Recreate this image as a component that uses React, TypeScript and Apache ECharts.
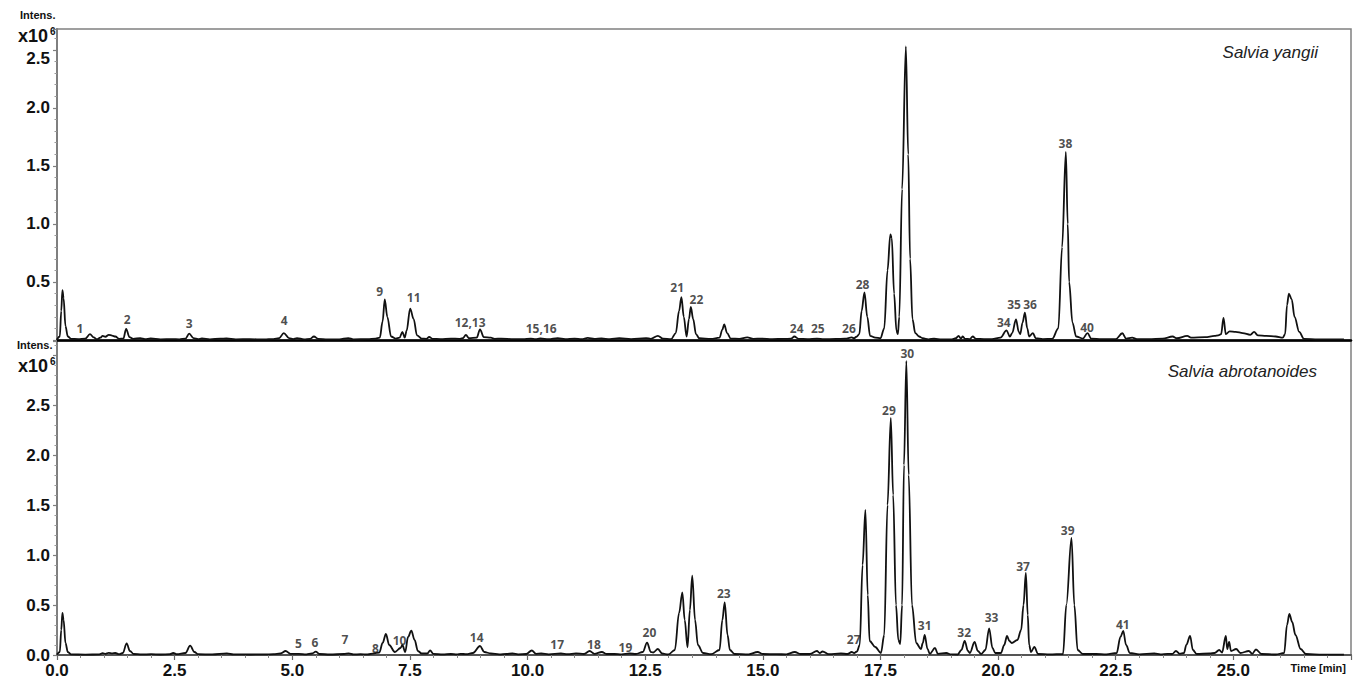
import React, { useEffect, useRef } from 'react';
import * as echarts from 'echarts';

// Retention time (min) vs intensity (x10^6) — Salvia yangii (top panel)
const yangiiTrace: [number, number][] = [
  [0, 0.005], [0.06, 0.03], [0.09, 0.25], [0.115, 0.43], [0.14, 0.36], [0.18, 0.12], [0.23, 0.03], [0.3, 0.01],
  [0.45, 0.008], [0.6, 0.012], [0.7, 0.05], [0.78, 0.022], [0.85, 0.006], [0.92, 0.02], [0.97, 0.035], [1.03, 0.028],
  [1.1, 0.045], [1.17, 0.038], [1.24, 0.03], [1.32, 0.01], [1.41, 0.012], [1.47, 0.095], [1.54, 0.025], [1.62, 0.01],
  [1.77, 0.016], [1.87, 0.008], [1.99, 0.013], [2.2, 0.006], [2.45, 0.008], [2.6, 0.006], [2.73, 0.012], [2.81, 0.055],
  [2.9, 0.016], [3.0, 0.008], [3.08, 0.013], [3.25, 0.006], [3.47, 0.011], [3.6, 0.013], [3.8, 0.006], [4.1, 0.007],
  [4.4, 0.005], [4.6, 0.008], [4.72, 0.015], [4.82, 0.06], [4.93, 0.016], [5.02, 0.008], [5.1, 0.016], [5.25, 0.006],
  [5.38, 0.01], [5.46, 0.03], [5.55, 0.01], [5.75, 0.005], [6.0, 0.006], [6.19, 0.016], [6.3, 0.006], [6.6, 0.007],
  [6.77, 0.012], [6.86, 0.02], [6.92, 0.16], [6.965, 0.35], [7.02, 0.2], [7.1, 0.03], [7.2, 0.012], [7.28, 0.02],
  [7.34, 0.07], [7.39, 0.02], [7.43, 0.08], [7.505, 0.27], [7.58, 0.18], [7.65, 0.04], [7.75, 0.012], [7.85, 0.01],
  [7.91, 0.026], [7.98, 0.01], [8.15, 0.008], [8.37, 0.012], [8.55, 0.01], [8.62, 0.015], [8.69, 0.043], [8.76, 0.015],
  [8.92, 0.02], [8.99, 0.092], [9.07, 0.025], [9.22, 0.02], [9.3, 0.01], [9.44, 0.012], [9.7, 0.007], [9.9, 0.008],
  [10.07, 0.012], [10.17, 0.007], [10.27, 0.014], [10.45, 0.007], [10.64, 0.016], [10.8, 0.008], [11.0, 0.012],
  [11.15, 0.008], [11.28, 0.018], [11.42, 0.009], [11.57, 0.013], [11.75, 0.008], [11.95, 0.016], [12.2, 0.008],
  [12.52, 0.016], [12.62, 0.01], [12.77, 0.036], [12.88, 0.012], [13.05, 0.008], [13.15, 0.06], [13.22, 0.25],
  [13.27, 0.37], [13.32, 0.2], [13.38, 0.03], [13.43, 0.18], [13.47, 0.285], [13.52, 0.18], [13.58, 0.05], [13.65, 0.015],
  [13.9, 0.01], [14.08, 0.02], [14.14, 0.09], [14.18, 0.135], [14.24, 0.06], [14.32, 0.012], [14.5, 0.01], [14.67, 0.022],
  [14.8, 0.01], [14.97, 0.012], [15.2, 0.008], [15.45, 0.009], [15.6, 0.012], [15.67, 0.03], [15.76, 0.01], [15.95, 0.008],
  [16.15, 0.012], [16.3, 0.007], [16.55, 0.009], [16.75, 0.012], [16.89, 0.022], [16.94, 0.015], [16.99, 0.028],
  [17.05, 0.05], [17.1, 0.25], [17.16, 0.41], [17.22, 0.2], [17.28, 0.035], [17.39, 0.02], [17.5, 0.015], [17.58, 0.1],
  [17.65, 0.6], [17.71, 0.91], [17.74, 0.88], [17.79, 0.4], [17.84, 0.08], [17.87, 0.05], [17.9, 0.2], [17.96, 1.3],
  [18.04, 2.53], [18.09, 1.6], [18.13, 0.7], [18.18, 0.18], [18.24, 0.06], [18.32, 0.03], [18.4, 0.015], [18.52, 0.006],
  [18.64, 0.012], [18.8, 0.005], [19.02, 0.005], [19.1, 0.015], [19.16, 0.035], [19.21, 0.012], [19.25, 0.03],
  [19.3, 0.01], [19.4, 0.008], [19.46, 0.03], [19.53, 0.01], [19.7, 0.008], [19.87, 0.008], [20.05, 0.02], [20.18, 0.083],
  [20.25, 0.03], [20.3, 0.06], [20.38, 0.178], [20.44, 0.07], [20.47, 0.05], [20.52, 0.15], [20.57, 0.235], [20.62, 0.1],
  [20.66, 0.03], [20.74, 0.06], [20.8, 0.015], [20.95, 0.008], [21.15, 0.01], [21.28, 0.1], [21.36, 0.8], [21.44, 1.62],
  [21.48, 1.0], [21.51, 0.5], [21.58, 0.15], [21.66, 0.03], [21.8, 0.012], [21.9, 0.06], [21.98, 0.012], [22.2, 0.008],
  [22.5, 0.008], [22.64, 0.058], [22.72, 0.012], [22.85, 0.02], [22.95, 0.008], [23.2, 0.008], [23.5, 0.012],
  [23.71, 0.03], [23.8, 0.015], [24.02, 0.035], [24.1, 0.02], [24.4, 0.025], [24.6, 0.035], [24.68, 0.04], [24.74, 0.05],
  [24.79, 0.19], [24.84, 0.05], [24.92, 0.075], [25.05, 0.07], [25.2, 0.06], [25.36, 0.045], [25.44, 0.07], [25.52, 0.04],
  [25.7, 0.035], [25.9, 0.03], [26.05, 0.02], [26.1, 0.05], [26.14, 0.3], [26.18, 0.4], [26.24, 0.35], [26.3, 0.2],
  [26.4, 0.07], [26.5, 0.01], [26.8, 0.005], [27.1, 0.005], [27.35, 0.005],
];

// Salvia abrotanoides (bottom panel)
const abrotanoidesTrace: [number, number][] = [
  [0, 0.004], [0.06, 0.03], [0.09, 0.25], [0.115, 0.42], [0.14, 0.35], [0.18, 0.12], [0.23, 0.03], [0.3, 0.006],
  [0.6, 0.004], [0.9, 0.006], [0.97, 0.018], [1.03, 0.012], [1.1, 0.022], [1.17, 0.016], [1.24, 0.02], [1.32, 0.008],
  [1.4, 0.02], [1.48, 0.117], [1.55, 0.04], [1.63, 0.01], [1.8, 0.006], [2.0, 0.008], [2.2, 0.005], [2.4, 0.008],
  [2.47, 0.02], [2.55, 0.008], [2.73, 0.02], [2.83, 0.093], [2.92, 0.03], [3.0, 0.008], [3.3, 0.006], [3.61, 0.016],
  [3.75, 0.006], [4.1, 0.005], [4.4, 0.006], [4.6, 0.008], [4.75, 0.015], [4.86, 0.04], [4.96, 0.012], [5.14, 0.012],
  [5.3, 0.006], [5.42, 0.015], [5.5, 0.033], [5.58, 0.01], [5.8, 0.005], [6.1, 0.01], [6.2, 0.016], [6.3, 0.006],
  [6.45, 0.008], [6.6, 0.006], [6.74, 0.016], [6.85, 0.025], [6.92, 0.12], [6.99, 0.21], [7.06, 0.1], [7.18, 0.03],
  [7.3, 0.07], [7.34, 0.1], [7.4, 0.03], [7.46, 0.18], [7.53, 0.243], [7.6, 0.15], [7.67, 0.04], [7.75, 0.015],
  [7.87, 0.015], [7.93, 0.045], [8.0, 0.012], [8.2, 0.006], [8.37, 0.01], [8.5, 0.006], [8.58, 0.012], [8.7, 0.008],
  [8.84, 0.02], [8.99, 0.09], [9.08, 0.03], [9.22, 0.015], [9.4, 0.006], [9.55, 0.01], [9.68, 0.015], [9.8, 0.007],
  [9.97, 0.01], [10.09, 0.045], [10.18, 0.012], [10.29, 0.015], [10.45, 0.007], [10.71, 0.015], [10.85, 0.008],
  [11.03, 0.016], [11.2, 0.01], [11.32, 0.04], [11.42, 0.012], [11.58, 0.03], [11.68, 0.01], [11.85, 0.01], [12.0, 0.006],
  [12.17, 0.015], [12.3, 0.01], [12.45, 0.03], [12.54, 0.123], [12.62, 0.03], [12.67, 0.025], [12.77, 0.06], [12.86, 0.015],
  [12.99, 0.005], [13.13, 0.05], [13.22, 0.42], [13.29, 0.627], [13.34, 0.35], [13.4, 0.077], [13.45, 0.45], [13.5, 0.793],
  [13.56, 0.35], [13.62, 0.1], [13.73, 0.02], [13.9, 0.008], [14.08, 0.05], [14.14, 0.35], [14.19, 0.527], [14.25, 0.2],
  [14.3, 0.05], [14.4, 0.01], [14.7, 0.006], [14.89, 0.03], [15.0, 0.01], [15.3, 0.008], [15.5, 0.007], [15.68, 0.03],
  [15.8, 0.01], [16.0, 0.01], [16.15, 0.04], [16.21, 0.02], [16.27, 0.035], [16.4, 0.008], [16.66, 0.015], [16.8, 0.01],
  [16.89, 0.03], [16.94, 0.02], [17.0, 0.035], [17.06, 0.1], [17.12, 0.9], [17.18, 1.45], [17.23, 0.6], [17.27, 0.14],
  [17.39, 0.08], [17.51, 0.02], [17.58, 0.2], [17.65, 1.5], [17.72, 2.37], [17.77, 1.6], [17.83, 0.5], [17.88, 0.15],
  [17.92, 0.11], [17.96, 0.5], [18.0, 1.9], [18.05, 2.94], [18.1, 1.8], [18.17, 0.5], [18.26, 0.12], [18.36, 0.06],
  [18.4, 0.12], [18.44, 0.2], [18.5, 0.06], [18.55, 0.012], [18.66, 0.07], [18.72, 0.012], [18.9, 0.02], [19.0, 0.006],
  [19.14, 0.005], [19.22, 0.05], [19.29, 0.14], [19.36, 0.04], [19.4, 0.02], [19.5, 0.13], [19.57, 0.04], [19.64, 0.01],
  [19.73, 0.05], [19.81, 0.267], [19.88, 0.07], [19.94, 0.02], [20.06, 0.02], [20.13, 0.1], [20.19, 0.19], [20.24, 0.14],
  [20.29, 0.12], [20.41, 0.15], [20.49, 0.25], [20.54, 0.5], [20.59, 0.82], [20.63, 0.4], [20.66, 0.1], [20.7, 0.03],
  [20.77, 0.08], [20.85, 0.01], [21.1, 0.006], [21.38, 0.01], [21.45, 0.5], [21.56, 1.17], [21.62, 0.5], [21.69, 0.05],
  [21.8, 0.01], [22.08, 0.01], [22.3, 0.006], [22.52, 0.02], [22.6, 0.18], [22.66, 0.24], [22.72, 0.1], [22.8, 0.02],
  [23.0, 0.006], [23.32, 0.015], [23.45, 0.006], [23.6, 0.012], [23.7, 0.01], [23.78, 0.04], [23.86, 0.012], [23.95, 0.02],
  [24.0, 0.1], [24.08, 0.19], [24.14, 0.05], [24.22, 0.01], [24.5, 0.015], [24.6, 0.02], [24.7, 0.05], [24.76, 0.025],
  [24.84, 0.19], [24.87, 0.06], [24.91, 0.13], [24.95, 0.04], [25.06, 0.06], [25.15, 0.02], [25.33, 0.04], [25.4, 0.012],
  [25.48, 0.055], [25.6, 0.01], [25.9, 0.005], [26.08, 0.02], [26.14, 0.3], [26.19, 0.41], [26.25, 0.33], [26.32, 0.2],
  [26.43, 0.06], [26.54, 0.01], [26.9, 0.004], [27.35, 0.004],
];

// Peak annotations: [label, retention time, label height]
const yangiiPeaks: [string, number, number][] = [
  ['1', 0.49, 0.095], ['2', 1.49, 0.18], ['3', 2.81, 0.14], ['4', 4.83, 0.17], ['9', 6.86, 0.42], ['11', 7.58, 0.37],
  ['12,13', 8.78, 0.155], ['15,16', 10.29, 0.095], ['21', 13.18, 0.45], ['22', 13.59, 0.345], ['24', 15.72, 0.1],
  ['25', 16.17, 0.095], ['26', 16.83, 0.095], ['28', 17.12, 0.48], ['34', 20.12, 0.155], ['35', 20.34, 0.31],
  ['36', 20.68, 0.31], ['38', 21.43, 1.69], ['40', 21.89, 0.11],
];
const abrotanoidesPeaks: [string, number, number][] = [
  ['5', 5.13, 0.12], ['6', 5.48, 0.13], ['7', 6.12, 0.16], ['8', 6.77, 0.07], ['10', 7.28, 0.15], ['14', 8.92, 0.18],
  ['17', 10.63, 0.11], ['18', 11.41, 0.11], ['19', 12.08, 0.08], ['20', 12.59, 0.23], ['23', 14.17, 0.62],
  ['27', 16.93, 0.16], ['29', 17.68, 2.45], ['30', 18.07, 3.02], ['31', 18.44, 0.3], ['32', 19.28, 0.23],
  ['33', 19.86, 0.38], ['37', 20.53, 0.89], ['39', 21.48, 1.25], ['41', 22.65, 0.31],
];

const sampleNames = ['Salvia yangii', 'Salvia abrotanoides'];
const timeRange = [0, 27.5];
const timeStep = 2.5;
const intensityMaxTop = 2.68;
const intensityMaxBottom = 3.14;
const intensityStep = 0.5;

const FONT = '"Liberation Sans", Arial, Helvetica, sans-serif';
const PEAK_FONT = '"Open Sans", "Liberation Sans", sans-serif';

function peakSeries(peaks: [string, number, number][], idx: number) {
  return {
    type: 'scatter',
    xAxisIndex: idx,
    yAxisIndex: idx,
    silent: true,
    symbol: 'circle',
    symbolSize: 1,
    itemStyle: { color: 'rgba(0,0,0,0)' },
    data: peaks.map(([n, t, v]) => ({ name: n, value: [t, v] })),
    label: {
      show: true,
      position: 'inside',
      formatter: '{b}',
      fontFamily: PEAK_FONT,
      fontWeight: 'bold',
      fontSize: 12,
      color: '#1e1e1e',
    },
    z: 5,
  };
}

const labelText = { fontFamily: FONT, fontWeight: 'bold', fontSize: 17, color: '#111' };

function yAxisCfg(idx: number, max: number, hideZero: boolean, shiftTop: boolean) {
  return {
    type: 'value',
    gridIndex: idx,
    min: 0,
    max,
    interval: intensityStep,
    axisLine: { show: true, onZero: false, lineStyle: { color: '#7f7f7f', width: 2 } },
    axisTick: { show: true, length: 4, lineStyle: { color: '#7f7f7f', width: 1.2 } },
    minorTick: { show: true, splitNumber: 5, length: 2.5, lineStyle: { color: '#999' } },
    splitLine: { show: false },
    axisLabel: {
      margin: 7,
      ...labelText,
      formatter: (v: number) => {
        if ((hideZero && v < 0.25) || v > 2.55) return '';
        if (shiftTop && v > 2.45) return '{low|' + v.toFixed(1) + '}';
        return v.toFixed(1);
      },
      rich: { low: { ...labelText, padding: [18, 0, 0, 0] } },
    },
  };
}

export default function App() {
  const ref = useRef<HTMLDivElement>(null);
  useEffect(() => {
    const chart = echarts.init(ref.current!, null, { renderer: 'svg' });
    const option: any = {
      animation: false,
      backgroundColor: '#fff',
      grid: [
        { left: 57, top: 29, width: 1294, height: 311, show: true, borderColor: '#808080', borderWidth: 1.5 },
        { left: 57, top: 341, width: 1294, height: 314, show: true, borderColor: '#808080', borderWidth: 1.5 },
      ],
      xAxis: [
        {
          type: 'value', gridIndex: 0, min: timeRange[0], max: timeRange[1], interval: timeStep,
          axisLine: { show: true, onZero: false, lineStyle: { color: '#000', width: 2.5 } },
          axisTick: { show: false }, axisLabel: { show: false }, splitLine: { show: false },
        },
        {
          type: 'value', gridIndex: 1, min: timeRange[0], max: timeRange[1], interval: timeStep,
          axisLine: { show: true, onZero: false, lineStyle: { color: '#555', width: 2 } },
          axisTick: { show: true, length: 5, lineStyle: { color: '#666', width: 1.2 } },
          minorTick: { show: true, splitNumber: 5, length: 3, lineStyle: { color: '#888' } },
          splitLine: { show: false },
          axisLabel: {
            margin: 7, ...labelText,
            formatter: (v: number) => (v > 26 ? '' : v.toFixed(1)),
          },
        },
      ],
      yAxis: [
        yAxisCfg(0, intensityMaxTop, true, true),
        yAxisCfg(1, intensityMaxBottom, false, false),
      ],
      series: [
        {
          type: 'line', xAxisIndex: 0, yAxisIndex: 0, data: yangiiTrace, showSymbol: false, symbol: 'none',
          smooth: 0.35, smoothMonotone: 'x', lineStyle: { color: '#111', width: 1.8 }, silent: true,
        },
        {
          type: 'line', xAxisIndex: 1, yAxisIndex: 1, data: abrotanoidesTrace, showSymbol: false, symbol: 'none',
          smooth: 0.35, smoothMonotone: 'x', lineStyle: { color: '#111', width: 1.8 }, silent: true,
        },
        peakSeries(yangiiPeaks, 0),
        peakSeries(abrotanoidesPeaks, 1),
      ],
      graphic: [
        { type: 'text', x: 20, y: 15, style: { text: 'Intens.', font: `bold 11px ${FONT}`, fill: '#111', textVerticalAlign: 'middle' } },
        { type: 'text', x: 18, y: 36, style: { text: 'x10', font: `bold 18px ${FONT}`, fill: '#111', textVerticalAlign: 'middle' } },
        { type: 'text', x: 50, y: 31, style: { text: '6', font: `bold 10px ${FONT}`, fill: '#111', textVerticalAlign: 'middle' } },
        { type: 'text', x: 17, y: 345, style: { text: 'Intens.', font: `bold 11px ${FONT}`, fill: '#111', textVerticalAlign: 'middle' } },
        { type: 'text', x: 18, y: 366, style: { text: 'x10', font: `bold 18px ${FONT}`, fill: '#111', textVerticalAlign: 'middle' } },
        { type: 'text', x: 50, y: 361, style: { text: '6', font: `bold 10px ${FONT}`, fill: '#111', textVerticalAlign: 'middle' } },
        { type: 'text', x: 1318, y: 52, style: { text: sampleNames[0], font: `italic 17px ${FONT}`, fill: '#222', textAlign: 'right', textVerticalAlign: 'middle' } },
        { type: 'text', x: 1317, y: 371, style: { text: sampleNames[1], font: `italic 17px ${FONT}`, fill: '#222', textAlign: 'right', textVerticalAlign: 'middle' } },
        { type: 'text', x: 1346, y: 668, style: { text: 'Time [min]', font: `bold 11px ${FONT}`, fill: '#111', textAlign: 'right', textVerticalAlign: 'middle' } },
      ],
    };
    chart.setOption(option);
    return () => chart.dispose();
  }, []);
  return (
    <div
      ref={ref}
      style={{ position: 'fixed', left: 0, top: 0, width: 1372, height: 689, background: '#fff' }}
    />
  );
}
